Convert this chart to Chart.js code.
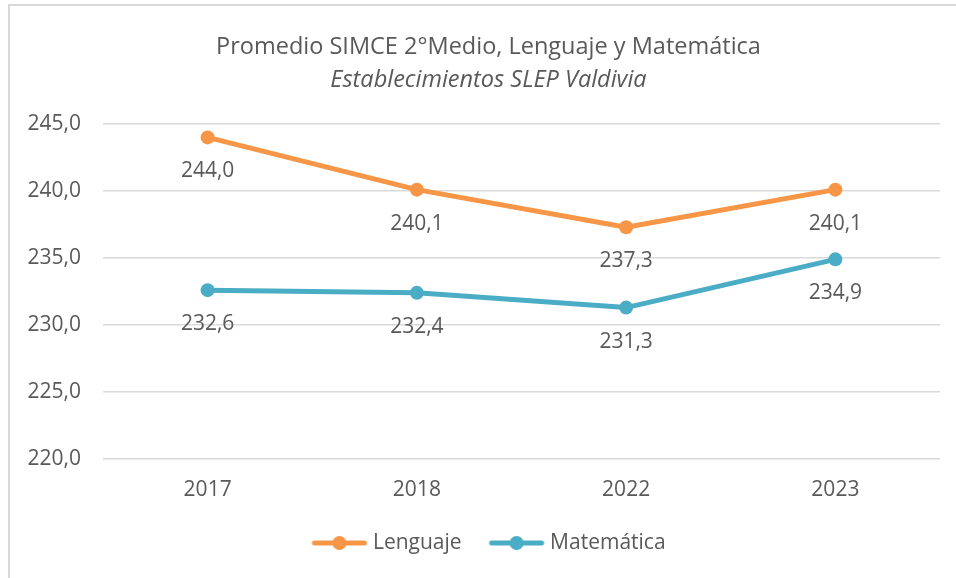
<!DOCTYPE html>
<html>
<head>
<meta charset="utf-8">
<script src="https://cdn.jsdelivr.net/npm/chart.js@4.4.1/dist/chart.umd.min.js"></script>
<style>
  html, body { margin: 0; padding: 0; background: #ffffff; }
  #wrap { width: 956px; height: 578px; position: relative; }
</style>
</head>
<body>
<div id="wrap"><canvas id="c" width="956" height="578"></canvas></div>
<script>
const categories = ['2017', '2018', '2022', '2023'];
const lenguaje = [244.0, 240.1, 237.3, 240.1];
const matematica = [232.6, 232.4, 231.3, 234.9];
const yMin = 220;
const yMax = 245;
const yStep = 5;

const ORANGE = '#F79646';
const BLUE = '#4BACC6';
const TEXT = '#595959';
const GRID = '#D9D9D9';
const FONT = "'Open Sans', sans-serif";

function fmt(v) { return v.toFixed(1).replace('.', ','); }

function legendIcon(color) {
  const c = document.createElement('canvas');
  c.width = 80; c.height = 16;
  const x = c.getContext('2d');
  x.strokeStyle = color; x.lineWidth = 5; x.lineCap = 'round';
  x.beginPath(); x.moveTo(26, 8); x.lineTo(76, 8); x.stroke();
  x.fillStyle = color;
  x.beginPath(); x.arc(51, 8, 7, 0, Math.PI * 2); x.fill();
  return c;
}

const frame = {
  id: 'frame',
  afterLayout(chart) {
    // title block in the reference is centred slightly right of the plot
    chart.boxes.forEach(b => {
      if (b.position === 'top' && b.options && 'text' in b.options) {
        b.left += 17;
      }
    });
  },
  beforeDraw(chart) {
    const ctx = chart.ctx;
    ctx.save();
    ctx.fillStyle = '#fff';
    ctx.fillRect(0, 0, chart.width, chart.height);
    ctx.strokeStyle = GRID;
    ctx.lineWidth = 2;
    ctx.beginPath();
    ctx.moveTo(9, chart.height);
    ctx.lineTo(9, 5);
    ctx.lineTo(chart.width, 5);
    ctx.stroke();
    ctx.restore();
  }
};

const valueLabels = {
  id: 'valueLabels',
  afterDatasetsDraw(chart) {
    const ctx = chart.ctx;
    ctx.save();
    ctx.font = '21px ' + FONT;
    ctx.fillStyle = TEXT;
    ctx.textAlign = 'center';
    ctx.textBaseline = 'middle';
    chart.data.datasets.forEach((ds, i) => {
      chart.getDatasetMeta(i).data.forEach((pt, j) => {
        ctx.fillText(fmt(ds.data[j]), pt.x, pt.y + 34);
      });
    });
    ctx.restore();
  }
};

new Chart(document.getElementById('c'), {
  type: 'line',
  data: {
    labels: categories,
    datasets: [
      { label: 'Lenguaje', data: lenguaje, borderColor: ORANGE, backgroundColor: ORANGE,
        borderWidth: 5, pointRadius: 7, pointHoverRadius: 7, pointBackgroundColor: ORANGE,
        pointBorderWidth: 0, tension: 0, borderCapStyle: 'round', borderJoinStyle: 'round',
        pointStyle: 'circle', legendIcon: legendIcon(ORANGE) },
      { label: 'Matemática', data: matematica, borderColor: BLUE, backgroundColor: BLUE,
        borderWidth: 5, pointRadius: 7, pointHoverRadius: 7, pointBackgroundColor: BLUE,
        pointBorderWidth: 0, tension: 0, borderCapStyle: 'round', borderJoinStyle: 'round',
        pointStyle: 'circle', legendIcon: legendIcon(BLUE) }
    ]
  },
  options: {
    responsive: false,
    animation: false,
    layout: { padding: { left: 20, right: 16, top: 33, bottom: 14.5 } },
    plugins: {
      title: {
        display: true,
        text: 'Promedio SIMCE 2°Medio, Lenguaje y Matemática',
        color: TEXT,
        font: { family: FONT, size: 23.5, weight: 'normal', lineHeight: 1.2 },
        padding: { top: 0, bottom: 4.7 }
      },
      subtitle: {
        display: true,
        text: 'Establecimientos SLEP Valdivia',
        color: TEXT,
        font: { family: FONT, size: 23.5, style: 'italic', weight: 'normal', lineHeight: 1.2 },
        padding: { top: 0, bottom: 29.9 }
      },
      legend: {
        position: 'bottom',
        labels: {
          usePointStyle: true,
          pointStyleWidth: 68,
          padding: 10,
          color: TEXT,
          font: { family: FONT, size: 21 },
          generateLabels(chart) {
            return chart.data.datasets.map((ds, i) => ({
              text: ds.label,
              pointStyle: ds.legendIcon,
              fillStyle: ds.borderColor,
              strokeStyle: ds.borderColor,
              lineWidth: 0,
              hidden: false,
              datasetIndex: i,
              fontColor: TEXT
            }));
          }
        }
      },
      tooltip: { enabled: false }
    },
    scales: {
      x: {
        offset: true,
        afterFit(scale) { scale.height = 63.5; },
        grid: { display: false, drawTicks: false },
        border: { display: false },
        ticks: { color: TEXT, font: { family: FONT, size: 21 }, padding: 18.4 }
      },
      y: {
        min: yMin, max: yMax,
        afterFit(scale) { scale.width = 83; },
        grid: { color: GRID, lineWidth: 1.5, drawTicks: false },
        border: { display: false },
        ticks: { stepSize: yStep, color: TEXT, font: { family: FONT, size: 21 }, padding: 22,
                 callback: (v) => fmt(v) }
      }
    }
  },
  plugins: [frame, valueLabels]
});
</script>
</body>
</html>
